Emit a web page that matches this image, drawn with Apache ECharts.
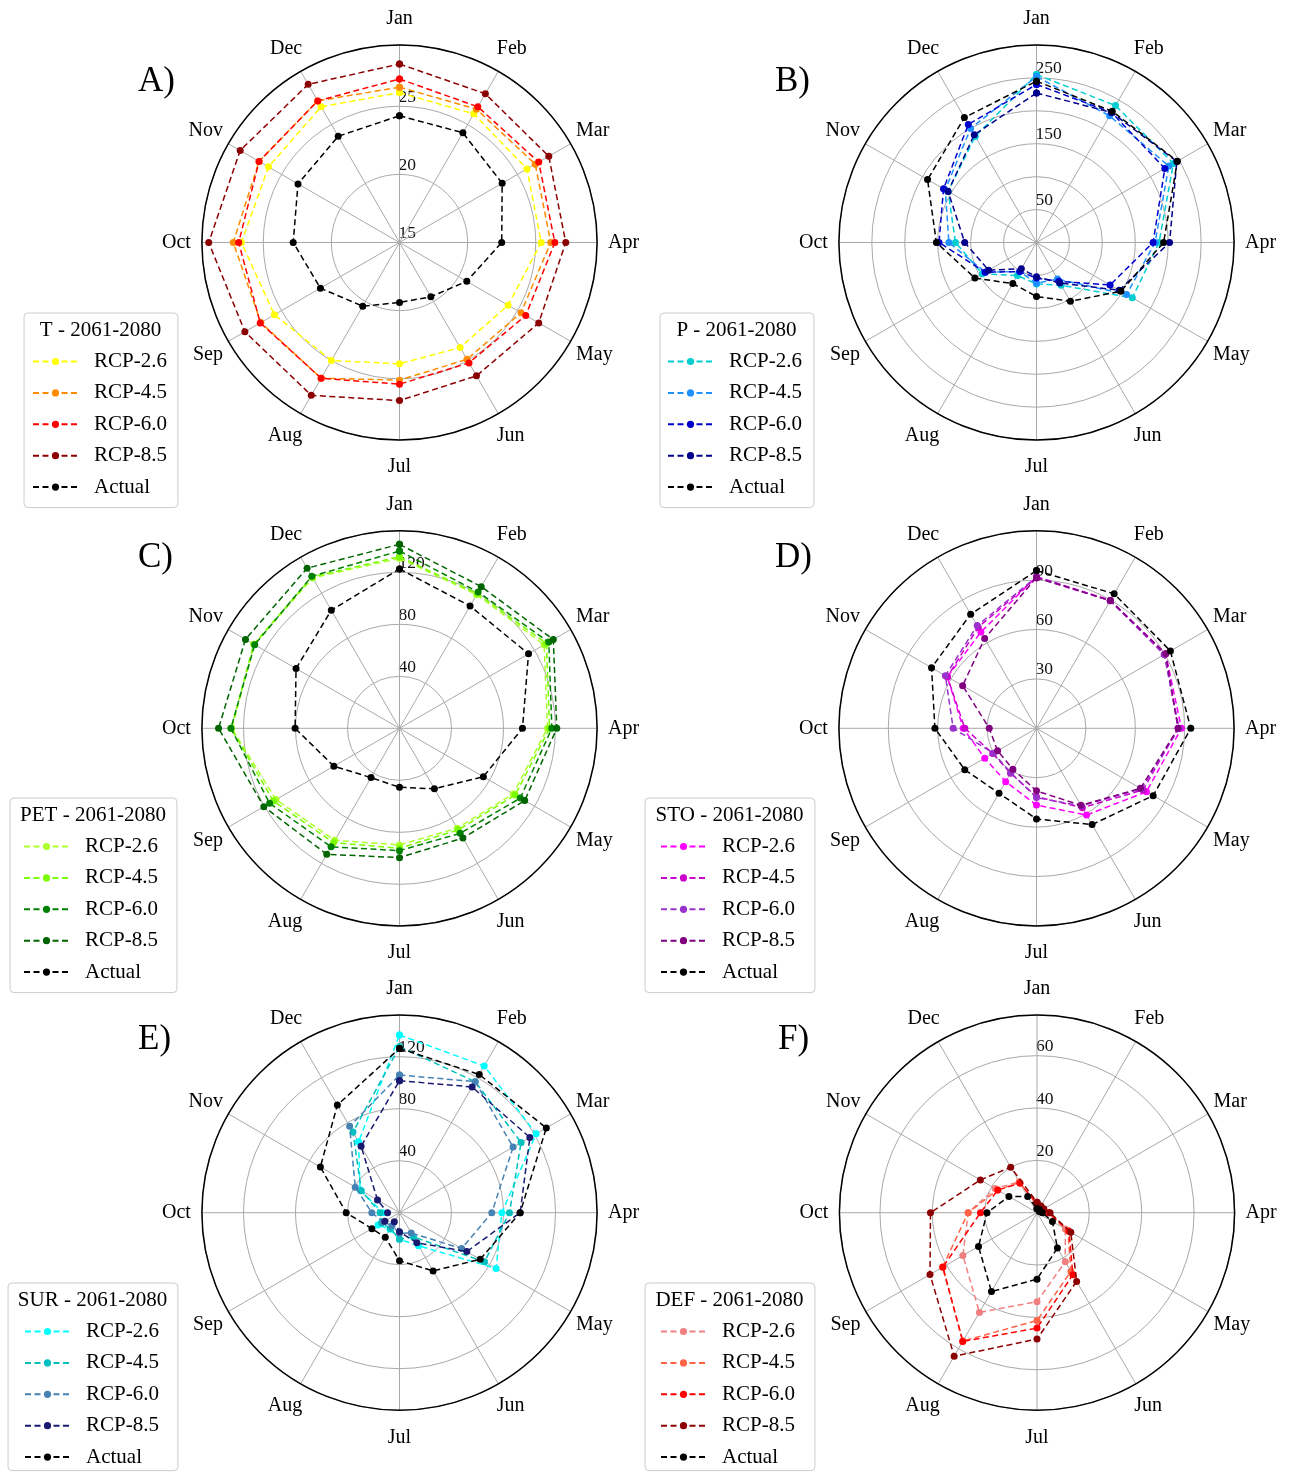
<!DOCTYPE html>
<html><head><meta charset="utf-8">
<script src="https://cdn.jsdelivr.net/npm/echarts@6/dist/echarts.min.js"></script>
<style>html,body{margin:0;padding:0;background:#fff}#c{width:1289px;height:1475px}</style>
</head><body><div id="c"></div>
<script>
const months = ['Jan','Feb','Mar','Apr','May','Jun','Jul','Aug','Sep','Oct','Nov','Dec'];
const seriesNames = ['RCP-2.6','RCP-4.5','RCP-6.0','RCP-8.5','Actual'];

// A) T
const T_ticks = [15, 20, 25];
const T_rcp26 = [26.0, 25.9, 25.8, 25.4, 24.2, 23.9, 23.9, 25.0, 25.6, 26.6, 26.1, 26.5];
const T_rcp45 = [26.4, 26.3, 26.5, 26.1, 25.3, 24.9, 25.1, 26.5, 26.75, 27.2, 26.9, 27.0];
const T_rcp60 = [27.0, 26.5, 26.8, 26.4, 25.7, 25.2, 25.4, 26.5, 26.8, 26.8, 26.9, 27.0];
const T_rcp85 = [28.1, 27.6, 27.65, 27.2, 26.8, 26.3, 26.6, 27.95, 28.1, 29.0, 28.5, 28.4];
const T_actual = [24.3, 24.3, 23.7, 22.5, 20.7, 19.6, 19.4, 20.4, 21.7, 22.8, 23.6, 24.0];

// B) P
const P_ticks = [50, 150, 250];
const P_rcp26 = [255, 240, 240, 186, 168, 75, 63, 58, 95, 123, 155, 186];
const P_rcp45 = [252, 222, 232, 180, 158, 64, 62, 51, 90, 133, 160, 200];
const P_rcp60 = [240, 228, 225, 177, 129, 68, 54, 51, 90, 148, 163, 207];
const P_rcp85 = [227, 228, 246, 202, 145, 71, 52, 46, 84, 109, 155, 189];
const P_actual = [245, 230, 247, 193, 148, 103, 82, 72, 108, 152, 191, 219];

// C) PET
const PET_ticks = [40, 80, 120];
const PET_rcp26 = [130.8, 118.7, 128.5, 113.8, 101, 88.7, 89.7, 99.5, 109.7, 129, 129, 133.6];
const PET_rcp45 = [132, 119.7, 130.5, 115.4, 102.7, 90.2, 92.3, 101.5, 112, 129.5, 129.5, 134.5];
const PET_rcp60 = [136.4, 121, 132.6, 117.2, 107.3, 93.3, 94.1, 105.3, 115.4, 129.7, 128.6, 135];
const PET_rcp85 = [141.5, 125.8, 136.6, 121, 111.2, 97.5, 99.5, 111.9, 120.5, 139.2, 136.8, 142.2];
const PET_actual = [122.6, 108.6, 114.6, 94.6, 74.5, 53.7, 45.4, 43.8, 58.3, 80.3, 91.9, 104.9];

// D) STO
const STO_ticks = [30, 60, 90];
const STO_rcp26 = [92.1, 89.7, 90.6, 88, 77.1, 60.8, 46.6, 37.4, 36.3, 44.5, 62.5, 67.5];
const STO_rcp45 = [91.5, 89.5, 90, 86, 74.8, 55.7, 41.5, 31.5, 30.7, 43.5, 62.5, 70.8];
const STO_rcp60 = [92, 89.5, 89.5, 86.6, 73.6, 54.4, 42.1, 31.2, 30.2, 50.6, 63.9, 72];
const STO_rcp85 = [91.5, 89.7, 90.6, 86, 72.9, 54, 38, 28.7, 27.3, 28.7, 51.8, 63];
const STO_actual = [95.8, 94.3, 93.9, 93.7, 81.8, 67.5, 55.1, 45.5, 50.3, 61.7, 73.6, 80];

// E) SUR
const SUR_ticks = [40, 80, 120];
const SUR_rcp26 = [136.7, 130.3, 121.4, 78.7, 85.8, 29.3, 20.5, 14.6, 19.1, 12.8, 35, 63];
const SUR_rcp45 = [127.7, 116.4, 108, 84.6, 75.5, 21.6, 20.5, 14, 16, 14.9, 33.9, 71.6];
const SUR_rcp60 = [105.9, 116.4, 100.9, 71, 55.2, 18, 15.9, 11.5, 14.3, 21.3, 39.3, 76.7];
const SUR_rcp85 = [101.5, 111.7, 115.8, 92.8, 59.8, 26.7, 14.6, 8, 13, 9.2, 19.5, 59.1];
const SUR_actual = [126.4, 122.7, 130.4, 92.8, 71.7, 51.7, 36.9, 21.9, 24.5, 41, 70.3, 95.6];

// F) DEF
const DEF_ticks = [20, 40, 60];
const DEF_rcp26 = [3, 2, 2, 4, 12.5, 21.6, 34, 44, 32.7, 26.3, 18.5, 13.6];
const DEF_rcp45 = [3, 2.5, 2.5, 4.5, 13.6, 25.9, 41.2, 56.6, 41.7, 26.3, 17.4, 13.4];
const DEF_rcp60 = [3.5, 2.5, 2.5, 4.5, 14.1, 27.4, 44.1, 56.8, 41.5, 21.6, 17.3, 13];
const DEF_rcp85 = [4, 3, 3, 5, 14.9, 30.3, 48.3, 63.3, 47.2, 40.7, 25, 20.1];
const DEF_actual = [1.5, 1.5, 1, 2, 6.8, 15.6, 25.4, 34.8, 25.8, 19.1, 12.4, 7.1];

const FONT = '"Liberation Serif", "Times New Roman", serif';
const R = 197.6;
const GRID = '#a9a9a9';

const panels = [
  {key:'A', title:'T - 2061-2080', center:[399.5,242.5], rmin:15, rmax:29.5, step:5, ticks:T_ticks,
   data:[T_rcp26,T_rcp45,T_rcp60,T_rcp85,T_actual],
   colors:['#ffff00','#ff8c00','#ff0000','#8b0000','#000000'],
   letterPos:[138,64], legend:{left:24, top:313, pad:[38,11,10,8]}},
  {key:'B', title:'P - 2061-2080', center:[1036.5,242.5], rmin:0, rmax:300, step:50, ticks:P_ticks,
   data:[P_rcp26,P_rcp45,P_rcp60,P_rcp85,P_actual],
   colors:['#00ced1','#1e90ff','#0000cd','#00008b','#000000'],
   letterPos:[775,64], legend:{left:660, top:313, pad:[38,12,10,7]}},
  {key:'C', title:'PET - 2061-2080', center:[399.5,728.3], rmin:0, rmax:152, step:40, ticks:PET_ticks,
   data:[PET_rcp26,PET_rcp45,PET_rcp60,PET_rcp85,PET_actual],
   colors:['#adff2f','#7cfc00','#008000','#006400','#000000'],
   letterPos:[138,540], legend:{left:10, top:798, pad:[38,19,10,13]}},
  {key:'D', title:'STO - 2061-2080', center:[1036.5,728.3], rmin:0, rmax:120, step:30, ticks:STO_ticks,
   data:[STO_rcp26,STO_rcp45,STO_rcp60,STO_rcp85,STO_actual],
   colors:['#ff00ff','#cc00cc','#9932cc','#800080','#000000'],
   letterPos:[775,540], legend:{left:645, top:798, pad:[38,20,10,15]}},
  {key:'E', title:'SUR - 2061-2080', center:[399.5,1212.7], rmin:0, rmax:152, step:40, ticks:SUR_ticks,
   data:[SUR_rcp26,SUR_rcp45,SUR_rcp60,SUR_rcp85,SUR_actual],
   colors:['#00ffff','#00bfbf','#4682b4','#191970','#000000'],
   letterPos:[138,1022], legend:{left:8, top:1283, pad:[38,19,3,16]}},
  {key:'F', title:'DEF - 2061-2080', center:[1037,1212.7], rmin:0, rmax:75.5, step:20, ticks:DEF_ticks,
   data:[DEF_rcp26,DEF_rcp45,DEF_rcp60,DEF_rcp85,DEF_actual],
   colors:['#f08080','#ff6347','#ff0000','#8b0000','#000000'],
   letterPos:[778,1022], legend:{left:645, top:1283, pad:[38,20,3,15]}}
];

// padding [top, right, bottom, left] per month label, to centre them on a ring like the reference
const monthPad = [[0,0,19,0],[0,0,15,0],[0,0,4,8],[0,0,0,14],[5,0,0,8],[15,0,0,0],
                  [20,0,0,0],[15,0,0,0],[5,8,0,0],[0,14,0,0],[0,8,4,0],[0,0,15,0]];
const monthRich = {};
monthPad.forEach((pd, k) => { monthRich['m' + k] = {fontFamily: FONT, fontSize: 20, color: '#000', padding: pd}; });

const polar = [], angleAxis = [], radiusAxis = [], series = [], legend = [], title = [];
panels.forEach((p, i) => {
  polar.push({center: p.center, radius: R});
  angleAxis.push({
    polarIndex: i, type: 'value', min: 0, max: 12, interval: 1, startAngle: 90, clockwise: true, z: 1,
    axisLine: {lineStyle: {color: '#000', width: 1.5}},
    axisTick: {show: false},
    splitLine: {show: true, lineStyle: {color: GRID, width: 1}},
    axisLabel: {
      margin: -3, color: '#000', fontFamily: FONT, fontSize: 20,
      formatter: v => (v >= 0 && v < 12) ? '{m' + v + '|' + months[v] + '}' : '',
      rich: monthRich
    }
  });
  radiusAxis.push({
    polarIndex: i, type: 'value', min: p.rmin, max: p.rmax, interval: p.step, z: 0,
    axisLine: {show: false}, axisTick: {show: false},
    splitLine: {show: true, lineStyle: {color: GRID, width: 1}},
    axisLabel: {
      showMaxLabel: false, color: '#111', fontFamily: FONT, fontSize: 17.5,
      align: 'left', verticalAlign: 'bottom', margin: 1,
      formatter: v => p.ticks.includes(v) ? String(v) : ''
    }
  });
  const names = seriesNames.map(n => p.key + ':' + n);
  p.data.forEach((vals, j) => {
    const pts = vals.concat([vals[0]]).map((v, k) => [v, k]);
    series.push({
      type: 'line', name: names[j], coordinateSystem: 'polar', polarIndex: i,
      data: pts, symbol: 'circle', symbolSize: 7, z: 3 + j,
      lineStyle: {color: p.colors[j], width: 1.5, type: [6, 3.5]},
      itemStyle: {color: p.colors[j]},
      emphasis: {disabled: true}, animation: false
    });
  });
  legend.push({
    orient: 'vertical', left: p.legend.left, top: p.legend.top, data: names,
    formatter: n => n.split(':')[1],
    itemWidth: 45, itemHeight: 9, itemGap: 10.4, padding: p.legend.pad,
    borderColor: '#cccccc', borderWidth: 1, borderRadius: 4, backgroundColor: '#ffffff',
    selectedMode: false,
    textStyle: {fontFamily: FONT, fontSize: 21, color: '#000', padding: [0,0,0,11]}
  });
  title.push({
    text: p.title, left: p.legend.left + (p.legend.pad[3] + 134 + p.legend.pad[1]) / 2, top: p.legend.top + 7,
    textAlign: 'center', padding: 0, z: 10,
    textStyle: {fontFamily: FONT, fontSize: 21, fontWeight: 'normal', color: '#000'}
  });
  title.push({
    text: p.key + ')', left: p.letterPos[0], top: p.letterPos[1], padding: 0,
    textStyle: {fontFamily: FONT, fontSize: 35, fontWeight: 'normal', color: '#000'}
  });
});

const chart = echarts.init(document.getElementById('c'), null, {renderer: 'canvas'});
chart.setOption({animation: false, backgroundColor: '#fff', polar, angleAxis, radiusAxis, series, legend, title});
</script></body></html>
